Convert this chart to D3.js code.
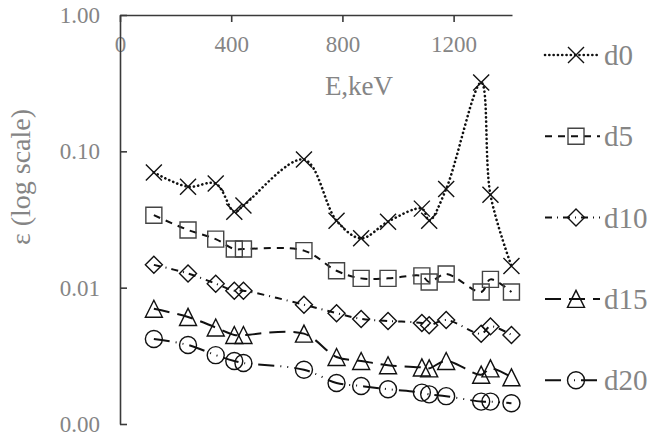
<!DOCTYPE html>
<html lang="en">
<head>
	<meta charset="utf-8">
	<title>Efficiency vs energy, log scale</title>
	<script type="text/javascript" src="https://d3js.org/d3.v7.min.js"></script>
	<style type="text/css">
		body { margin: 0; background: #fff; }
		text { font-family: "Liberation Serif", "Times New Roman", serif; fill: #858585; }
	</style>
</head>
<body>
	<script type="text/javascript">

		// gamma line energies, keV
		var energies = [121.8, 244.7, 344.3, 411.1, 444.0, 661.7, 778.9, 867.4, 964.1, 1085.8, 1112.1, 1173.2, 1299.1, 1332.5, 1408.0];

		var d0  = [0.070, 0.055, 0.058, 0.036, 0.040, 0.087, 0.031, 0.023, 0.0305, 0.038, 0.031, 0.053, 0.32, 0.048, 0.0144];
		var d5  = [0.034, 0.0265, 0.0227, 0.0192, 0.0192, 0.0187, 0.0133, 0.0117, 0.0117, 0.0122, 0.011, 0.0126, 0.0093, 0.0115, 0.0093];
		var d10 = [0.0147, 0.0127, 0.0107, 0.0095, 0.0095, 0.0075, 0.0065, 0.0059, 0.0057, 0.0055, 0.0053, 0.0058, 0.0046, 0.0052, 0.0045];
		var d15 = [0.0070, 0.0061, 0.0051, 0.0045, 0.0045, 0.0046, 0.0031, 0.0029, 0.0027, 0.0026, 0.00256, 0.0029, 0.0023, 0.00256, 0.0022];
		var d20 = [0.0042, 0.0038, 0.0032, 0.0029, 0.0028, 0.0025, 0.0020, 0.0019, 0.0018, 0.0017, 0.00165, 0.0016, 0.00146, 0.00146, 0.00142];

		var seriesNames = ["d0", "d5", "d10", "d15", "d20"];
		var xTicks = [0, 400, 800, 1200];
		var yTicks = [1, 0.1, 0.01, 0.001];

		var width = 649, height = 438;

		var svg = d3.select("body")
			.append("svg")
			.attr("width", width)
			.attr("height", height);

		var x = d3.scaleLinear().domain([0, 1410]).range([120, 512]);
		var y = d3.scaleLog().domain([0.001, 1]).range([424, 15]);

		// style per series: dash pattern, marker shape
		var styles = {
			d0:  { dash: "0.1,4.2", width: 2.6, cap: "round", shape: "x", stroke: "#111" },
			d5:  { dash: "7,6", width: 2, cap: "butt", shape: "square", stroke: "#444" },
			d10: { dash: "7,5,1,5", width: 2, cap: "butt", shape: "diamond", stroke: "#111" },
			d15: { dash: "16,8", width: 2, cap: "butt", shape: "triangle", stroke: "#111" },
			d20: { dash: "16,6,1,6,1,6", width: 2, cap: "butt", shape: "circle", stroke: "#111" }
		};

		function markerPath(shape) {
			var p = d3.path();
			if (shape == "x") {
				p.moveTo(-8, -8); p.lineTo(8, 8);
				p.moveTo(-8, 8); p.lineTo(8, -8);
			} else if (shape == "square") {
				p.rect(-8, -8, 16, 16);
			} else if (shape == "diamond") {
				p.moveTo(0, -8.5); p.lineTo(8.5, 0); p.lineTo(0, 8.5); p.lineTo(-8.5, 0); p.closePath();
			} else if (shape == "triangle") {
				p.moveTo(0, -8.5); p.lineTo(8.5, 8.5); p.lineTo(-8.5, 8.5); p.closePath();
			} else {
				p.arc(0, 0, 8.5, 0, 2 * Math.PI);
			}
			return p.toString();
		}

		var series = [d0, d5, d10, d15, d20].map(function(vals, i) {
			return {
				name: seriesNames[i],
				points: vals.map(function(v, j) { return { e: energies[j], v: v }; })
			};
		});

		// axes
		var xAxis = d3.axisBottom(x)
			.tickValues(xTicks)
			.tickSizeInner(7)
			.tickSizeOuter(0)
			.tickPadding(14)
			.tickFormat(d3.format("d"));

		svg.append("g")
			.attr("transform", "translate(0,15)")
			.call(xAxis);

		var yAxis = d3.axisLeft(y)
			.tickValues(yTicks)
			.tickSizeInner(-7)
			.tickSizeOuter(0)
			.tickPadding(20)
			.tickFormat(d3.format(".2f"));

		svg.append("g")
			.attr("transform", "translate(120,0)")
			.call(yAxis);

		svg.selectAll(".domain, .tick line")
			.attr("stroke", "#3a3a3a")
			.attr("stroke-width", 1.6);

		svg.selectAll(".tick text")
			.attr("font-size", 23)
			.attr("fill", "#858585");

		// axis titles
		svg.append("text")
			.attr("x", 359)
			.attr("y", 95)
			.attr("text-anchor", "middle")
			.attr("font-size", 27)
			.text("E,keV");

		svg.append("text")
			.attr("transform", "translate(30,177) rotate(-90)")
			.attr("text-anchor", "middle")
			.attr("font-size", 28)
			.text("ε (log scale)");

		// lines
		var line = d3.line()
			.x(function(d) { return x(d.e); })
			.y(function(d) { return y(d.v); })
			.curve(d3.curveCatmullRom.alpha(0.5));

		svg.selectAll(".series")
			.data(series)
			.enter()
			.append("path")
			.attr("class", "series")
			.attr("d", function(d) { return line(d.points); })
			.attr("fill", "none")
			.attr("stroke", "#111")
			.attr("stroke-width", function(d) { return styles[d.name].width; })
			.attr("stroke-linecap", function(d) { return styles[d.name].cap; })
			.attr("stroke-dasharray", function(d) { return styles[d.name].dash; });

		// markers
		series.forEach(function(s) {
			var st = styles[s.name];
			svg.append("g")
				.selectAll("path")
				.data(s.points)
				.enter()
				.append("path")
				.attr("transform", function(d) { return "translate(" + x(d.e) + "," + y(d.v) + ")"; })
				.attr("d", markerPath(st.shape))
				.attr("fill", "none")
				.attr("stroke", st.stroke)
				.attr("stroke-width", 1.4);
		});

		// legend
		var legend = svg.selectAll(".legend")
			.data(seriesNames)
			.enter()
			.append("g")
			.attr("class", "legend")
			.attr("transform", function(d, i) { return "translate(0," + (55 + i * 81.3) + ")"; });

		legend.append("line")
			.attr("x1", 545)
			.attr("x2", 600)
			.attr("stroke", "#111")
			.attr("stroke-width", function(d) { return styles[d].width; })
			.attr("stroke-linecap", function(d) { return styles[d].cap; })
			.attr("stroke-dasharray", function(d) { return styles[d].dash; });

		legend.append("path")
			.attr("transform", "translate(576,0)")
			.attr("d", function(d) { return markerPath(styles[d].shape); })
			.attr("fill", "none")
			.attr("stroke", function(d) { return styles[d].stroke; })
			.attr("stroke-width", 1.4);

		legend.append("text")
			.attr("x", 604)
			.attr("dy", "0.35em")
			.attr("font-size", 29)
			.text(function(d) { return d; });

	</script>
</body>
</html>
